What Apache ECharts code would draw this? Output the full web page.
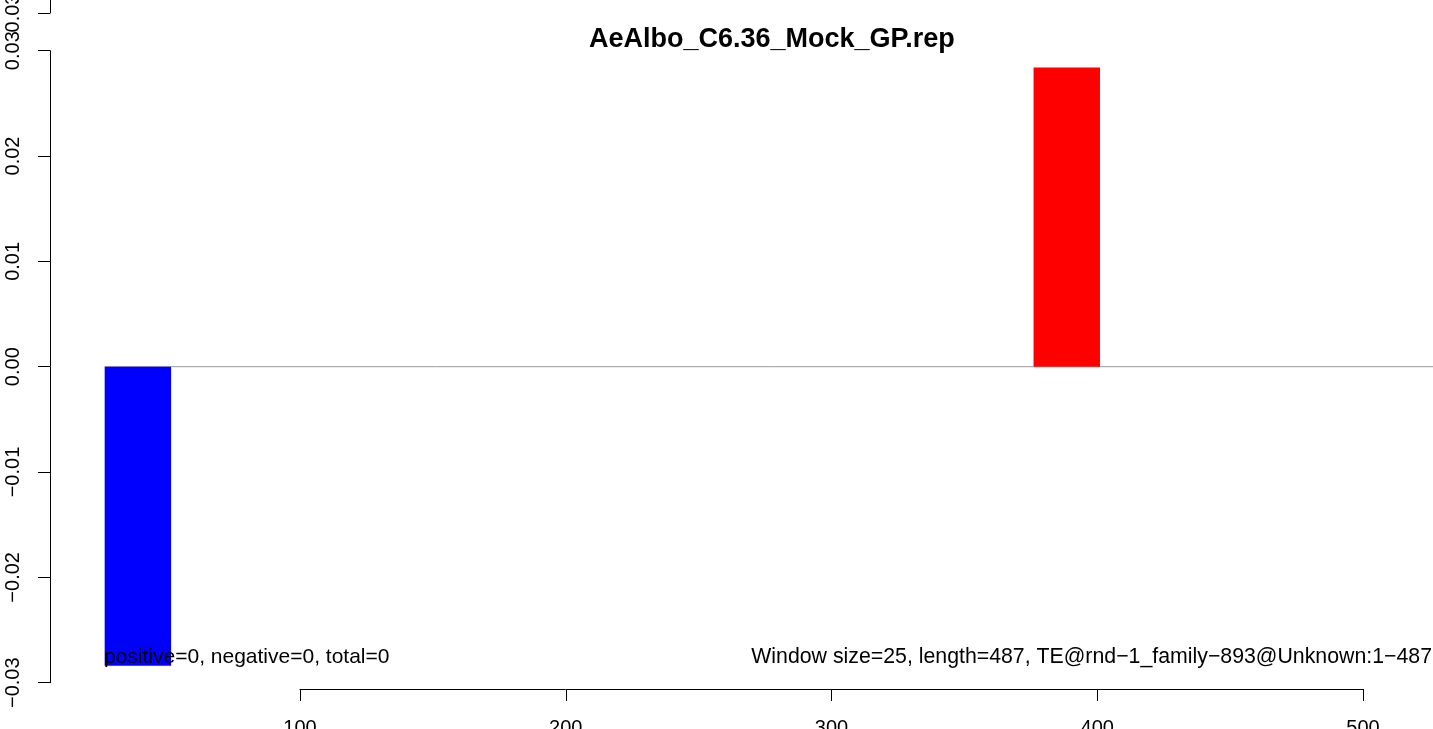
<!DOCTYPE html>
<html><head><meta charset="utf-8">
<script src="https://cdn.jsdelivr.net/npm/echarts@6/dist/echarts.min.js"></script>
<style>html,body{margin:0;padding:0;background:#fff}#c{width:1433px;height:729px}</style>
</head><body><div id="c"></div>
<script>
// Window data: [start, end, value]
const windowStarts = [26.5, 376];
const windowEnds = [51.5, 401];
const windowValues = [-0.0284, 0.0284];
const baselineX = [26.5, 526.3];
const baselineY = [0, 0];
const yTicks = [-0.03, -0.02, -0.01, 0, 0.01, 0.02, 0.03];
const xTicks = [100, 200, 300, 400, 500];
const titleText = 'AeAlbo_C6.36_Mock_GP.rep';
const leftNote = 'positive=0, negative=0, total=0';
const rightNote = 'Window size=25, length=487, TE@rnd\u22121_family\u2212893@Unknown:1\u2212487';

const FONT = 'Liberation Sans, Arial, Helvetica, sans-serif';
const fmt = v => (Math.abs(v) < 1e-9 ? '0.00' : v.toFixed(2)).replace('-', '\u2212');

const bars = windowStarts.map((s, i) => [s, windowEnds[i], windowValues[i]]);
const baseline = baselineX.map((x, i) => [x, baselineY[i]]);

const chart = echarts.init(document.getElementById('c'), null, {renderer: 'canvas'});
const axisLineStyle = {color: '#000', width: 1};
const yLabel = {fontFamily: FONT, fontSize: 20, color: '#000', rotate: 90, margin: 37, formatter: fmt, verticalAlign: 'middle', align: 'center'};
chart.setOption({
  animation: false,
  backgroundColor: '#fff',
  title: {
    text: titleText, left: 584, top: 21,
    textStyle: {fontFamily: FONT, fontWeight: 'bold', fontSize: 27, color: '#000'}
  },
  grid: [
    {left: 50, right: 0, top: 50.7, bottom: 46.3, outerBoundsMode: 'none'},
    {left: 300, width: 1063, top: 600, bottom: 40, outerBoundsMode: 'none'},
    {left: 50, width: 100, top: -92.3, height: 105.3, outerBoundsMode: 'none'}
  ],
  xAxis: [
    {gridIndex: 0, type: 'value', min: 5.93, max: 526.3, show: false},
    {gridIndex: 1, type: 'value', min: xTicks[0], max: xTicks[xTicks.length - 1], interval: 100,
     axisLine: {show: true, onZero: false, lineStyle: axisLineStyle},
     axisTick: {show: true, length: 12, lineStyle: axisLineStyle},
     splitLine: {show: false},
     axisLabel: {fontFamily: FONT, fontSize: 20, color: '#000', margin: 29}},
    {gridIndex: 2, type: 'value', min: 0, max: 1, show: false}
  ],
  yAxis: [
    {gridIndex: 0, type: 'value', min: yTicks[0], max: yTicks[yTicks.length - 1], interval: 0.01,
     axisLine: {show: true, onZero: false, lineStyle: axisLineStyle},
     axisTick: {show: true, length: 12, lineStyle: axisLineStyle},
     splitLine: {show: false},
     axisLabel: yLabel},
    {gridIndex: 1, type: 'value', show: false},
    {gridIndex: 2, type: 'value', min: 0.03, max: 0.04, interval: 0.01,
     axisLine: {show: true, onZero: false, lineStyle: axisLineStyle},
     axisTick: {show: true, length: 12, lineStyle: axisLineStyle},
     splitLine: {show: false},
     axisLabel: yLabel}
  ],
  series: [
    {type: 'line', xAxisIndex: 0, yAxisIndex: 0, data: baseline, symbol: 'none',
     lineStyle: {color: '#999999', width: 1}, z: 1, silent: true},
    {type: 'custom', xAxisIndex: 0, yAxisIndex: 0, data: bars, z: 2,
     renderItem: function (params, api) {
       const p0 = api.coord([api.value(0), 0]);
       const p1 = api.coord([api.value(1), api.value(2)]);
       const v = api.value(2);
       return {type: 'rect',
         shape: {x: p0[0], y: Math.min(p0[1], p1[1]), width: p1[0] - p0[0], height: Math.abs(p1[1] - p0[1])},
         style: {fill: v < 0 ? '#0000FF' : '#FF0000'}};
     }}
  ],
  graphic: [
    {type: 'text', left: 104, top: 647, z: 10,
     style: {text: leftNote, font: '21px ' + FONT, fill: '#000'}},
    {type: 'text', right: 1, top: 647, z: 10,
     style: {text: rightNote, font: '21.3px ' + FONT, fill: '#000', textAlign: 'right'}}
  ]
});
</script></body></html>
